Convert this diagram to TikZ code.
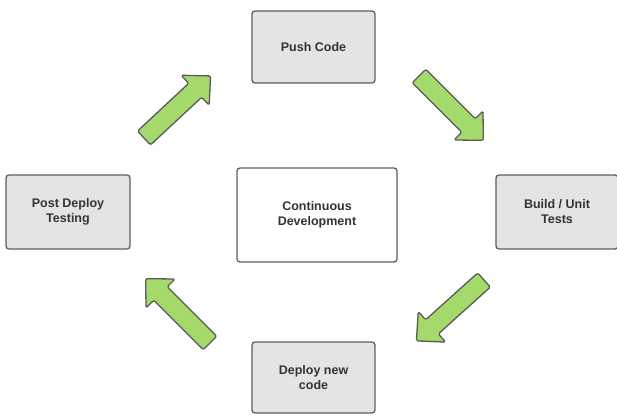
\documentclass[tikz,border=0pt]{standalone}
\usepackage{fontspec}
\setmainfont{Liberation Sans}
\definecolor{boxfill}{HTML}{E4E4E4}
\definecolor{boxline}{HTML}{5E5E5E}
\definecolor{txt}{HTML}{333333}
\definecolor{arrfill}{HTML}{A4D96C}
\definecolor{arrline}{HTML}{5A5A5A}
\tikzset{
  stage/.style={draw=boxline, line width=1.3pt, fill=boxfill, rounded corners=3pt,
    align=center, font=\fontsize{12.5}{15}\selectfont\bfseries, text=txt, inner sep=0pt},
  centerbox/.style={stage, fill=white},
  bigarrow/.style={draw=arrline, line width=1.3pt, fill=arrfill, rounded corners=1.5pt, line join=round}
}
\newcommand{\blockarr}[3]{%
  \begin{scope}[shift={(#1,#2)}, rotate=#3]
    \draw[bigarrow] (0,-9.5) -- (70,-9.5) -- (70,-20.5) -- (91,0) -- (70,20.5) -- (70,9.5) -- (0,9.5) -- cycle;
  \end{scope}}
\begin{document}
\begin{tikzpicture}[x=1pt,y=1pt]
\useasboundingbox (0,0) rectangle (617,415);
\begin{scope}
\clip (0,0) rectangle (617,415);
\node[stage, minimum width=123pt, minimum height=72pt] (push) at (313.5,368) {Push Code};
\node[centerbox, minimum width=160pt, minimum height=94pt] (cd) at (317,200) {Continuous\\Development};
\node[stage, minimum width=124pt, minimum height=74pt] (post) at (68,203) {Post Deploy\\Testing};
\node[stage, minimum width=122pt, minimum height=74pt] (build) at (557,203) {Build / Unit\\Tests};
\node[stage, minimum width=123pt, minimum height=71pt] (deploy) at (313.5,37.5) {Deploy new\\code};
\end{scope}
\blockarr{144}{277}{43}
\blockarr{419}{339}{-45}
\blockarr{484}{135}{222}
\blockarr{210}{72}{135}
\end{tikzpicture}
\end{document}
